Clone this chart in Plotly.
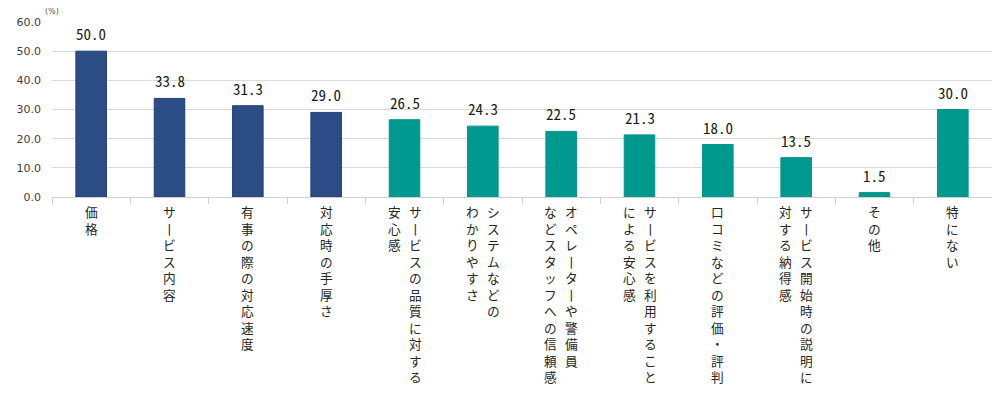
import plotly.graph_objects as go

categories = [
    "価格",
    "サービス内容",
    "有事の際の対応速度",
    "対応時の手厚さ",
    "サービスの品質に対する安心感",
    "システムなどのわかりやすさ",
    "オペレーターや警備員などスタッフへの信頼感",
    "サービスを利用することによる安心感",
    "口コミなどの評価・評判",
    "サービス開始時の説明に対する納得感",
    "その他",
    "特にない",
]
# label columns as they are wrapped in the reference (vertical writing, right to left)
label_columns = [
    ["価格"],
    ["サービス内容"],
    ["有事の際の対応速度"],
    ["対応時の手厚さ"],
    ["サービスの品質に対する", "安心感"],
    ["システムなどの", "わかりやすさ"],
    ["オペレーターや警備員", "などスタッフへの信頼感"],
    ["サービスを利用すること", "による安心感"],
    ["口コミなどの評価・評判"],
    ["サービス開始時の説明に", "対する納得感"],
    ["その他"],
    ["特にない"],
]
values = [50.0, 33.8, 31.3, 29.0, 26.5, 24.3, 22.5, 21.3, 18.0, 13.5, 1.5, 30.0]
groups = ["main"] * 4 + ["other"] * 8
y_ticks = [0, 10, 20, 30, 40, 50, 60]

NAVY = "#2C4C85"
TEAL = "#00998F"
color_map = {"main": NAVY, "other": TEAL}
line_map = {"main": "#22407A", "other": "#00958B"}

fig = go.Figure(
    go.Bar(
        x=categories,
        y=values,
        width=0.39,
        marker=dict(
            color=[color_map[g] for g in groups],
            line=dict(color=[line_map[g] for g in groups], width=1),
        ),
        hoverinfo="x+y",
    )
)

VERT = {"ー": "丨"}


def vertical(s):
    return "<br>".join(VERT.get(c, c) for c in s)


annotations = []
# value labels above the bars
for cat, v in zip(categories, values):
    annotations.append(
        dict(
            x=cat, xref="x", y=v, yref="y",
            yanchor="bottom", xanchor="center", yshift=5,
            text=f"{v:.1f}", showarrow=False,
            font=dict(family="Noto Sans Mono CJK JP, Liberation Mono, monospace", size=15, color="#1A1A1A"),
        )
    )

col_gap = 21
for cat, cols in zip(categories, label_columns):
    n = len(cols)
    for i, col in enumerate(cols):
        # first column is the rightmost
        offset = ((n - 1) / 2 - i) * col_gap
        annotations.append(
            dict(
                x=cat, xref="x", y=0, yref="paper",
                yanchor="top", xanchor="center",
                xshift=offset, yshift=-3,
                text=vertical(col), showarrow=False, align="center",
                font=dict(family="Noto Sans CJK JP", size=12.7, color="#262626"),
            )
        )
annotations.append(
    dict(x=0, xref="paper", y=1, yref="paper", xanchor="left", yanchor="bottom",
         xshift=-9, yshift=4, text="(%)", showarrow=False,
         font=dict(family="DejaVu Sans", size=8, color="#595959"))
)

# the page body adds an 8px margin, so the figure is sized and padded to fit 1000x397
fig.update_layout(
    width=992, height=389,
    margin=dict(l=32, r=8, t=12, b=200),
    paper_bgcolor="white", plot_bgcolor="white",
    showlegend=False,
    annotations=annotations,
)
fig.update_xaxes(
    showticklabels=False,
    showline=True, linecolor="#D0D0D0", linewidth=1,
    ticks="outside", tickson="boundaries", ticklen=6, tickcolor="#D0D0D0",
    showgrid=False, range=[-0.5, 11.5],
)
fig.update_yaxes(
    range=[0, 60], tickvals=y_ticks, tickformat=".1f",
    showgrid=True, gridcolor="#D9D9D9", gridwidth=1,
    zeroline=False,
    tickfont=dict(family="DejaVu Sans", size=11, color="#404040"),
    ticks="", ticklabelstandoff=10,
)

fig.write_html("out.html")
